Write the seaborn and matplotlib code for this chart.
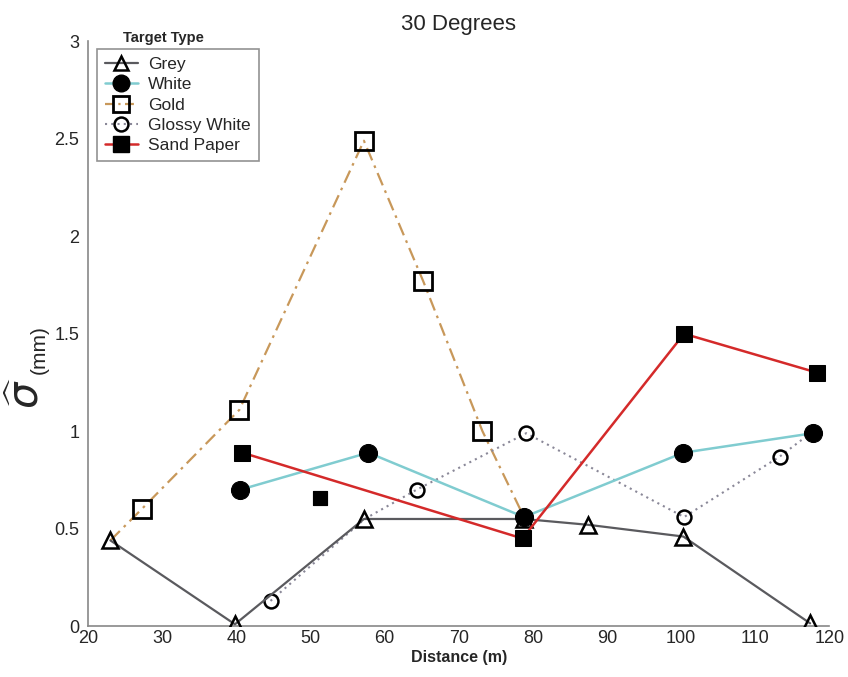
import numpy as np
import pandas as pd
import matplotlib
matplotlib.use("Agg")
import matplotlib.pyplot as plt
from matplotlib.lines import Line2D
import seaborn as sns

# ---- data ----
grey_x = [23.0, 39.8, 57.2, 78.8, 87.5, 100.3, 117.4]
grey_y = [0.44, 0.01, 0.55, 0.55, 0.52, 0.46, 0.015]

white_x = [40.5, 57.8, 78.8, 100.3, 117.8]
white_y = [0.70, 0.89, 0.56, 0.89, 0.99]

gold_x = [23.0, 27.2, 40.4, 57.2, 65.2, 73.2, 78.8]
gold_y = [0.44, 0.60, 1.11, 2.49, 1.77, 1.00, 0.56]

glossy_x = [44.6, 57.3, 64.3, 79.1, 100.4, 113.3, 117.8]
glossy_y = [0.13, 0.55, 0.70, 0.99, 0.56, 0.87, 1.00]

sand_x = [40.8, 78.6, 100.4, 118.4]
sand_y = [0.89, 0.45, 1.50, 1.30]
sand_extra_x = [51.3]
sand_extra_y = [0.66]

labels = ["Grey", "White", "Gold", "Glossy White", "Sand Paper"]
x_ticks = [20, 30, 40, 50, 60, 70, 80, 90, 100, 110, 120]
y_ticks = [0, 0.5, 1, 1.5, 2, 2.5, 3]
y_tick_labels = ["0", "0.5", "1", "1.5", "2", "2.5", "3"]

sns.set_style("white")
plt.rcParams['font.family'] = ['Liberation Sans', 'DejaVu Sans']

fig = plt.figure(figsize=(8.48, 6.77), dpi=100)
ax = fig.add_axes([0.104, 0.075, 0.874, 0.864])

c_grey = "#5a5a5e"
c_white = "#80ccd0"
c_gold = "#c8985a"
c_glossy = "#8a8898"
c_sand = "#d42a2a"

# Gold line (dash-dot), markers except first/last
sns.lineplot(x=gold_x, y=gold_y, ax=ax, sort=False, color=c_gold, lw=1.6,
             linestyle=(0, (6, 2.5, 1.2, 2.5)), marker="s", markersize=13,
             markerfacecolor="none", markeredgecolor="black", markeredgewidth=2,
             markevery=[1, 2, 3, 4, 5], zorder=2)
# Glossy white (dotted)
sns.lineplot(x=glossy_x, y=glossy_y, ax=ax, sort=False, color=c_glossy, lw=1.5,
             linestyle=(0, (1, 2)), marker="o", markersize=10,
             markerfacecolor="none", markeredgecolor="black", markeredgewidth=1.8,
             markevery=[0, 2, 3, 4, 5], zorder=3)
# Grey
sns.lineplot(x=grey_x, y=grey_y, ax=ax, sort=False, color=c_grey, lw=1.6,
             marker="^", markersize=11, markerfacecolor="none",
             markeredgecolor="black", markeredgewidth=1.8, zorder=4)
# White
sns.lineplot(x=white_x, y=white_y, ax=ax, sort=False, color=c_white, lw=1.8,
             marker="o", markersize=13, markerfacecolor="black",
             markeredgecolor="black", zorder=5)
# Sand paper
sns.lineplot(x=sand_x, y=sand_y, ax=ax, sort=False, color=c_sand, lw=1.8,
             marker="s", markersize=11, markerfacecolor="black",
             markeredgecolor="black", zorder=6)
sns.scatterplot(x=sand_extra_x, y=sand_extra_y, ax=ax, marker="s", s=110,
                color="black", edgecolor="black", zorder=6)

ax.set_xlim(20, 120)
ax.set_ylim(0, 3)
ax.set_xticks(x_ticks)
ax.set_yticks(y_ticks)
ax.set_yticklabels(y_tick_labels)
ax.tick_params(axis="x", direction="in", length=5, color="#777777", labelsize=13, pad=3)
ax.tick_params(axis="y", direction="inout", length=7, color="#777777", labelsize=13, pad=3)
for s in ["top", "right"]:
    ax.spines[s].set_visible(False)
for s in ["left", "bottom"]:
    ax.spines[s].set_color("#888888")
    ax.spines[s].set_linewidth(1.2)

ax.set_xlabel("Distance (m)", fontsize=11.5, fontweight="bold", labelpad=2)
ax.set_ylabel("")
ax.set_title("30 Degrees", fontsize=16, pad=8)

fig.text(0.033, 1 - 393 / 677, r"$\widehat{\sigma}$", fontsize=30, rotation=90,
         ha="center", va="center")
fig.text(0.046, 1 - 350 / 677, "(mm)", fontsize=15, rotation=90, ha="center", va="center")

handles = [
    Line2D([], [], color=c_grey, lw=1.6, marker="^", markersize=10,
           markerfacecolor="none", markeredgecolor="black", markeredgewidth=1.8),
    Line2D([], [], color=c_white, lw=1.8, marker="o", markersize=12,
           markerfacecolor="black", markeredgecolor="black"),
    Line2D([], [], color=c_gold, lw=1.6, linestyle=(0, (4, 2, 1, 2)), marker="s",
           markersize=12, markerfacecolor="none", markeredgecolor="black",
           markeredgewidth=2),
    Line2D([], [], color=c_glossy, lw=1.5, linestyle=(0, (1, 2)), marker="o",
           markersize=10, markerfacecolor="none", markeredgecolor="black",
           markeredgewidth=1.8),
    Line2D([], [], color=c_sand, lw=1.8, marker="s", markersize=11,
           markerfacecolor="black", markeredgecolor="black"),
]
leg = ax.legend(handles, labels, loc="upper left", bbox_to_anchor=(0.012, 0.987),
                borderaxespad=0, fontsize=12.5, frameon=True, fancybox=False,
                handlelength=1.9, handletextpad=0.6, labelspacing=0.3,
                borderpad=0.45)
leg.get_frame().set_edgecolor("#777777")
leg.get_frame().set_linewidth(1.2)
fig.text(163 / 848, 1 - 38 / 677, "Target Type", fontsize=10.5, fontweight="bold",
         ha="center", va="center")

fig.savefig("out.png", dpi=100)
